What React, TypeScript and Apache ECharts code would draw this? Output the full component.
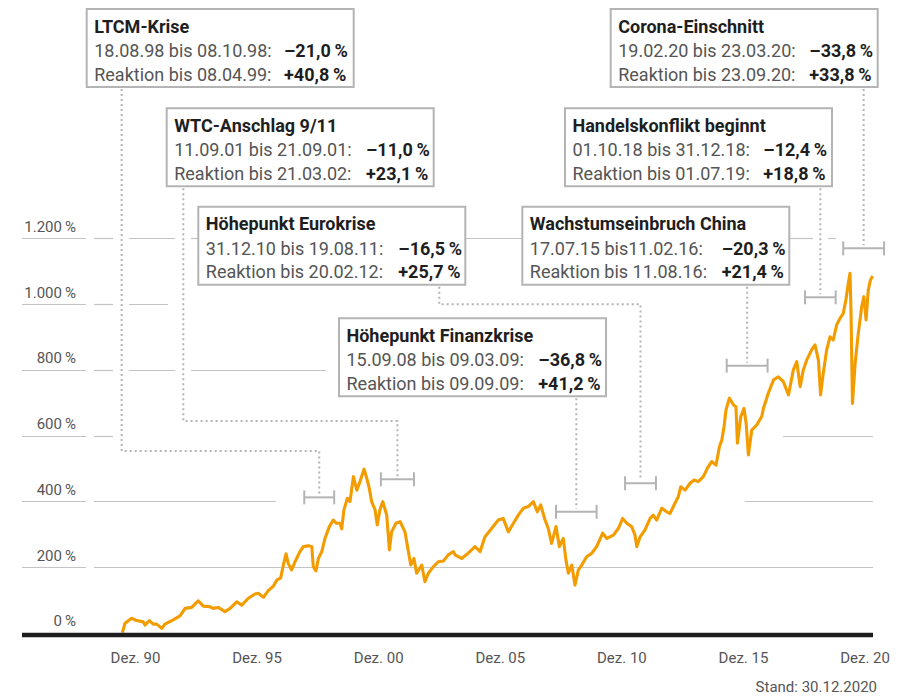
import React, { useEffect, useRef } from "react";
import * as echarts from "echarts";

// ---- Axis ticks ----
const xTickYears = [1991, 1996, 2001, 2006, 2011, 2016, 2021];
const xTickLabels = ["Dez. 90", "Dez. 95", "Dez. 00", "Dez. 05", "Dez. 10", "Dez. 15", "Dez. 20"];
const yTickValues = [0, 200, 400, 600, 800, 1000, 1200];

// ---- Index performance (position in years on the axis, change in %) ----
const years = [
  1990.46, 1990.57, 1990.84, 1991.05, 1991.32, 1991.39, 1991.57, 1991.73, 1991.87, 1992.08,
  1992.21, 1992.55, 1992.83, 1993.04, 1993.31, 1993.58, 1993.79, 1994.06, 1994.2, 1994.4,
  1994.68, 1994.89, 1995.16, 1995.37, 1995.64, 1995.91, 1996.05, 1996.26, 1996.46, 1996.67,
  1996.81, 1996.97, 1997.08, 1997.19, 1997.28, 1997.42, 1997.56, 1997.76, 1997.9, 1998.11,
  1998.25, 1998.31, 1998.42, 1998.52, 1998.66, 1998.79, 1998.97, 1999.13, 1999.27, 1999.41,
  1999.48, 1999.57, 1999.71, 1999.82, 1999.96, 2000.1, 2000.23, 2000.4, 2000.51, 2000.6,
  2000.71, 2000.85, 2000.94, 2001.05, 2001.17, 2001.33, 2001.44, 2001.53, 2001.71, 2001.88,
  2002.08, 2002.22, 2002.32, 2002.45, 2002.56, 2002.77, 2002.9, 2003.04, 2003.25, 2003.45,
  2003.66, 2003.86, 2004.07, 2004.14, 2004.41, 2004.68, 2004.96, 2005.17, 2005.37, 2005.65,
  2005.92, 2006.12, 2006.33, 2006.54, 2006.74, 2006.95, 2007.15, 2007.36, 2007.52, 2007.66,
  2007.84, 2007.97, 2008.11, 2008.29, 2008.43, 2008.59, 2008.7, 2008.8, 2008.94, 2009.07,
  2009.21, 2009.35, 2009.55, 2009.76, 2009.96, 2010.21, 2010.38, 2010.65, 2010.86, 2011.03,
  2011.2, 2011.4, 2011.54, 2011.61, 2011.75, 2011.95, 2012.16, 2012.29, 2012.43, 2012.64,
  2012.84, 2012.98, 2013.18, 2013.32, 2013.42, 2013.6, 2013.8, 2013.97, 2014.14, 2014.35,
  2014.51, 2014.69, 2014.87, 2015.01, 2015.11, 2015.2, 2015.28, 2015.42, 2015.59, 2015.69,
  2015.75, 2015.89, 2016.02, 2016.11, 2016.2, 2016.34, 2016.54, 2016.75, 2016.82, 2017.02,
  2017.23, 2017.43, 2017.64, 2017.85, 2018.05, 2018.19, 2018.33, 2018.46, 2018.6, 2018.8,
  2018.94, 2019.08, 2019.17, 2019.28, 2019.42, 2019.56, 2019.69, 2019.83, 2019.97, 2020.1,
  2020.21, 2020.31, 2020.38, 2020.42, 2020.48, 2020.59, 2020.72, 2020.86, 2020.95, 2021.04,
  2021.13, 2021.22, 2021.31,
];
const changePct = [
  0, 29, 44, 37, 33, 23, 37, 26, 26, 13,
  26, 39, 51, 74, 77, 97, 81, 79, 74, 77,
  64, 74, 94, 84, 105, 118, 120, 108, 128, 142,
  160, 167, 206, 240, 211, 191, 216, 247, 262, 265,
  262, 201, 188, 226, 247, 287, 323, 343, 333, 333,
  316, 374, 409, 399, 475, 434, 460, 498, 470, 444,
  399, 374, 328, 374, 399, 358, 252, 307, 333, 338,
  307, 247, 206, 226, 181, 206, 155, 181, 201, 216,
  218, 237, 247, 237, 226, 242, 262, 247, 292, 318,
  343, 348, 307, 333, 358, 379, 384, 399, 368, 389,
  343, 318, 272, 323, 262, 287, 221, 181, 206, 145,
  191, 206, 231, 242, 262, 303, 287, 297, 318, 348,
  333, 323, 297, 262, 292, 313, 348, 358, 343, 379,
  368, 363, 394, 414, 444, 434, 455, 465, 460, 475,
  500, 521, 510, 566, 587, 627, 678, 714, 693, 688,
  577, 658, 683, 637, 541, 617, 632, 658, 683, 729,
  769, 779, 764, 724, 800, 825, 749, 800, 830, 861,
  876, 830, 724, 790, 861, 901, 891, 937, 957, 972,
  1013, 1064, 1094, 982, 698, 820, 911, 992, 1023, 952,
  1043, 1074, 1086,
];

// ---- Crisis annotations ----
const crisisTitles = [
  "LTCM-Krise",
  "WTC-Anschlag 9/11",
  "Höhepunkt Eurokrise",
  "Höhepunkt Finanzkrise",
  "Wachstumseinbruch China",
  "Handelskonflikt beginnt",
  "Corona-Einschnitt",
];
const crisisPeriods = [
  "18.08.98 bis 08.10.98:",
  "11.09.01 bis 21.09.01:",
  "31.12.10 bis 19.08.11:",
  "15.09.08 bis 09.03.09:",
  "17.07.15 bis11.02.16:",
  "01.10.18 bis 31.12.18:",
  "19.02.20 bis 23.03.20:",
];
const crisisDrops = ["–21,0", "–11,0", "–16,5", "–36,8", "–20,3", "–12,4", "–33,8"];
const reactionPeriods = [
  "Reaktion bis 08.04.99:",
  "Reaktion bis 21.03.02:",
  "Reaktion bis 20.02.12:",
  "Reaktion bis 09.09.09:",
  "Reaktion bis 11.08.16:",
  "Reaktion bis 01.07.19:",
  "Reaktion bis 23.09.20:",
];
const reactionGains = ["+40,8", "+23,1", "+25,7", "+41,2", "+21,4", "+18,8", "+33,8"];
const bracketStart = [1997.94, 2001.09, 2011.13, 2008.29, 2015.31, 2018.53, 2020.1];
const bracketEnd = [1999.17, 2002.45, 2012.4, 2009.96, 2016.99, 2019.79, 2021.78];
const bracketLevel = [412, 467, 455, 368, 813, 1021, 1170];

// ---- Layout (pixels) ----
const boxLayout = [
  { x: 86.7, y: 9, valX: 284, anchorX: 121.7, elbowY: 451 },
  { x: 166.7, y: 108.3, valX: 366, anchorX: 183.3, elbowY: 421 },
  { x: 198.3, y: 206.7, valX: 398.3, anchorX: 439.3, elbowY: 304.3 },
  { x: 339, y: 318.3, valX: 538.3, anchorX: null, elbowY: null },
  { x: 522.3, y: 206.7, valX: 721.7, anchorX: null, elbowY: null },
  { x: 565, y: 108.3, valX: 763.3, anchorX: null, elbowY: null },
  { x: 610.7, y: 9, valX: 809.3, anchorX: null, elbowY: null },
];
const BOX_W = 267;
const BOX_H = 78;
const gridSegments: Record<number, number[][]> = {
  1200: [[22, 86], [94, 113], [129, 175], [191, 198], [466, 522], [789, 813], [828, 836]],
  1000: [[22, 86], [94, 113], [129, 168]],
  800: [[22, 86], [94, 113], [129, 175], [191, 326]],
  600: [[22, 86], [94, 113], [783, 873]],
  400: [[22, 86], [94, 276], [745, 873]],
  200: [[22, 86], [94, 873]],
};

const FONT = "Roboto, 'Noto Sans', sans-serif";
const ORANGE = "#F39C00";
const GRID_GRAY = "#c4c4c4";
const ANNO_GRAY = "#b4b4b4";

function fmtPct(v: number) {
  const s = v >= 1000 ? `${Math.floor(v / 1000)}.${String(v % 1000).padStart(3, "0")}` : String(v);
  return `${s}\u2009%`;
}

export default function App() {
  const ref = useRef<HTMLDivElement>(null);
  useEffect(() => {
    document.body.style.margin = "0";
    const chart = echarts.init(ref.current!, null, { renderer: "svg" });
    const lineData = years.map((t, i) => [t, changePct[i]]);
    chart.setOption({
      animation: false,
      backgroundColor: "#fff",
      grid: { left: 13.9, right: 16.58, top: 205.65, bottom: 63.3, containLabel: false },
      xAxis: {
        type: "value",
        min: 1986,
        max: 2022,
        axisLine: { show: false },
        axisTick: { show: false },
        splitLine: { show: false },
        axisLabel: {
          customValues: xTickYears,
          formatter: (v: number) => {
            const i = xTickYears.findIndex((y) => Math.abs(y - v) < 0.01);
            return i >= 0 ? xTickLabels[i] : "";
          },
          margin: 18,
          color: "#555",
          fontSize: 15,
          lineHeight: 15,
          fontFamily: FONT,
        },
      },
      yAxis: {
        type: "value",
        min: 0,
        max: 1300,
        axisLine: { show: false },
        axisTick: { show: false },
        splitLine: { show: false },
        axisLabel: {
          customValues: yTickValues,
          inside: true,
          align: "right",
          verticalAlign: "bottom",
          margin: 62.1,
          lineHeight: 23,
          color: "#555",
          fontSize: 15,
          fontFamily: FONT,
          formatter: (v: number) => fmtPct(v),
        },
      },
      series: [
        {
          type: "line",
          data: lineData,
          showSymbol: false,
          symbol: "none",
          lineStyle: { color: ORANGE, width: 3.1, join: "round" },
          z: 3,
        },
      ],
    });

    const px = (t: number, v: number) => chart.convertToPixel({ gridIndex: 0 }, [t, v]) as number[];
    const elements: any[] = [];

    // grid line segments
    Object.keys(gridSegments).forEach((k) => {
      const v = Number(k);
      const y = Math.round(px(2000, v)[1]) + 0.5;
      gridSegments[v].forEach(([a, b]) => {
        elements.push({
          type: "line",
          z: 0,
          silent: true,
          shape: { x1: a, y1: y, x2: b, y2: y },
          style: { stroke: GRID_GRAY, lineWidth: 1.2 },
        });
      });
    });

    // baseline
    const y0 = px(2000, 0)[1];
    elements.push({
      type: "line",
      z: 5,
      silent: true,
      shape: { x1: 22, y1: y0 + 2.3, x2: 873, y2: y0 + 2.3 },
      style: { stroke: "#1e1e1e", lineWidth: 4.6 },
    });

    // annotations
    crisisTitles.forEach((title, i) => {
      const L = boxLayout[i];
      const p1 = px(bracketStart[i], bracketLevel[i]);
      const p2 = px(bracketEnd[i], bracketLevel[i]);
      const by = p1[1];
      const bx = (p1[0] + p2[0]) / 2;
      // bracket
      elements.push({
        type: "line", z: 6, silent: true,
        shape: { x1: p1[0], y1: by, x2: p2[0], y2: by },
        style: { stroke: ANNO_GRAY, lineWidth: 2 },
      });
      [p1[0], p2[0]].forEach((xx) =>
        elements.push({
          type: "line", z: 6, silent: true,
          shape: { x1: xx, y1: by - 7, x2: xx, y2: by + 7 },
          style: { stroke: ANNO_GRAY, lineWidth: 2 },
        })
      );
      // connector
      const boxBottom = L.y + BOX_H;
      const pts =
        L.anchorX != null
          ? [[L.anchorX, boxBottom + 2], [L.anchorX, L.elbowY], [bx, L.elbowY], [bx, by - 3]]
          : [[bx, boxBottom + 2], [bx, by - 3]];
      elements.push({
        type: "polyline", z: 6, silent: true,
        shape: { points: pts },
        style: { stroke: ANNO_GRAY, lineWidth: 2, lineDash: [2, 3], fill: null },
      });
      // box
      elements.push({
        type: "rect", z: 8, silent: true,
        shape: { x: L.x, y: L.y, width: BOX_W, height: BOX_H },
        style: { fill: "#fff", stroke: ANNO_GRAY, lineWidth: 2 },
      });
      const tx = L.x + 7.5;
      const rows = [L.y + 17, L.y + 41.5, L.y + 65];
      const txt = (text: string, x: number, y: number, bold: boolean, color: string) => ({
        type: "text", z: 9, silent: true, x, y,
        style: {
          text, fill: color, fontSize: 18, fontFamily: FONT,
          fontWeight: bold ? "bold" : "normal", align: "left", verticalAlign: "middle",
        },
      });
      elements.push(txt(title, tx, rows[0], true, "#1e1e1e"));
      elements.push(txt(crisisPeriods[i], tx, rows[1], false, "#555"));
      elements.push(txt(reactionPeriods[i], tx, rows[2], false, "#555"));
      elements.push(txt(`${crisisDrops[i]}\u2009%`, L.valX, rows[1], true, "#1e1e1e"));
      elements.push(txt(`${reactionGains[i]}\u2009%`, L.valX, rows[2], true, "#1e1e1e"));
    });

    // source note
    elements.push({
      type: "text", z: 9, silent: true, x: 877, y: 687.3,
      style: {
        text: "Stand: 30.12.2020", fill: "#555", fontSize: 15, fontFamily: FONT,
        align: "right", verticalAlign: "middle",
      },
    });

    chart.setOption({ graphic: { elements } });
    return () => chart.dispose();
  }, []);
  return <div ref={ref} style={{ width: 906, height: 696 }} />;
}
